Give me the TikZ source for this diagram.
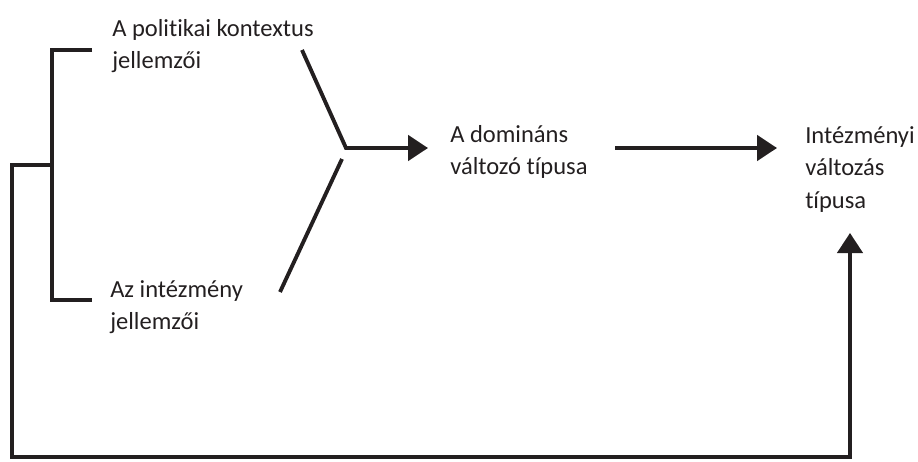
\documentclass[tikz,border=0pt]{standalone}
\usepackage{fontspec}
\setmainfont{Carlito}[Ligatures={NoCommon}]
\usetikzlibrary{arrows.meta}
\definecolor{inkblack}{RGB}{35,31,32}
\begin{document}
\begin{tikzpicture}[x=0.75pt,y=0.75pt,yscale=-1,xscale=1,
  conn/.style={draw=inkblack,line width=2.9pt},
  loopconn/.style={draw=inkblack,line width=2.5pt},
  tip/.style={-{Triangle[length=15pt,width=19pt]}},
  lbl/.style={anchor=north west,inner sep=0pt,align=left,text=inkblack,font=\fontsize{18.4}{24.4}\selectfont}]
\path[use as bounding box] (0,0) rectangle (918,461);

%Points [bracket and loop]
\coordinate (ctxEnd) at (92,50);
\coordinate (brTop) at (52,50);
\coordinate (brMid) at (52,165);
\coordinate (brBot) at (52,300);
\coordinate (instEnd) at (92,300);
\coordinate (loopTop) at (12,165);
\coordinate (loopBL) at (12,457);
\coordinate (loopBR) at (850,457);
\coordinate (outTip) at (850,233);
%Points [converging lines]
\coordinate (upStart) at (302,50);
\coordinate (join) at (346,148);
\coordinate (joinTip) at (428,148);
\coordinate (lowStart) at (342,159);
\coordinate (lowEnd) at (280,292);
\coordinate (midStart) at (615,148);
\coordinate (midTip) at (777,148);

%Straight Lines [bracket]
\draw [conn]  (ctxEnd) -- (brTop) -- (brBot) -- (instEnd) ;
%Straight Lines [loop]
\draw [loopconn,tip]  (brMid) -- (loopTop) -- (loopBL) -- (loopBR) -- (outTip) ;
%Straight Lines [upper]
\draw [conn,tip]  (upStart) -- (join) -- (joinTip) ;
%Straight Lines [lower]
\draw [conn]  (lowStart) -- (lowEnd) ;
%Straight Lines [middle]
\draw [conn,tip]  (midStart) -- (midTip) ;

% Text Node
\node [lbl] (ctx) at (112,19) {A politikai kontextus\\jellemzői};
% Text Node
\node [lbl] (inst) at (110,280) {Az intézmény\\jellemzői};
% Text Node
\node [lbl] (dom) at (450,125) {A domináns\\változó típusa};
% Text Node
\node [lbl] (out) at (805,126) {Intézményi\\változás\\típusa};

\end{tikzpicture}
\end{document}
